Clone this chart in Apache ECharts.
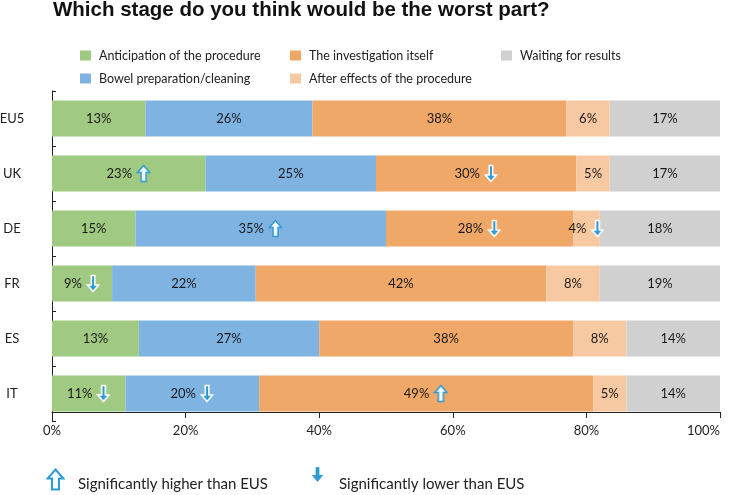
<!DOCTYPE html>
<html>
<head>
<meta charset="utf-8">
<script src="https://cdn.jsdelivr.net/npm/echarts@6/dist/echarts.min.js"></script>
<style>
html, body { margin: 0; padding: 0; background: #ffffff; }
#chart { width: 731px; height: 495px; }
</style>
</head>
<body>
<div id="chart"></div>
<script>
// categories, top to bottom
const categories = ['EU5', 'UK', 'DE', 'FR', 'ES', 'IT']
const seriesNames = [
    'Anticipation of the procedure',
    'Bowel preparation/cleaning',
    'The investigation itself',
    'After effects of the procedure',
    'Waiting for results'
]

// printed percentages
const anticipation = [13, 23, 15, 9, 13, 11]
const bowel = [26, 25, 35, 22, 27, 20]
const investigation = [38, 30, 28, 42, 38, 49]
const afterEffects = [6, 5, 4, 8, 8, 5]
const waiting = [17, 17, 18, 19, 14, 14]

// segment widths as drawn in the picture (they differ a bit from the printed numbers)
const anticipationBar = [14, 23, 12.5, 9, 13, 11]
const bowelBar = [25, 25.5, 37.5, 21.5, 27, 20]
const investigationBar = [38, 30, 28, 43.5, 38, 50]
const afterEffectsBar = [6.5, 5, 4, 8, 8, 5]
const waitingBar = [16.5, 16.5, 18, 18, 14, 14]

// significance markers vs EU5
const anticipationSig = ['', 'up', '', 'down', '', 'down']
const bowelSig = ['', '', 'up', '', '', 'down']
const investigationSig = ['', 'down', 'down', '', '', 'up']
const afterEffectsSig = ['', '', 'down', '', '', '']
const waitingSig = ['', '', '', '', '', '']

const xTicks = [0, 20, 40, 60, 80, 100]

const colors = ['#a0c981', '#7fb3e2', '#f0a868', '#f7c9a2', '#d0d0d0']
const arrowBlue = '#2f9bd6'
const font = 'Lato'

const printed = [anticipation, bowel, investigation, afterEffects, waiting]
const widths = [anticipationBar, bowelBar, investigationBar, afterEffectsBar, waitingBar]
const sigs = [anticipationSig, bowelSig, investigationSig, afterEffectsSig, waitingSig]

// small arrow pictures, drawn once on canvases
function makeArrow(dir, w, h, stemW, headH, fill, stroke, lw) {
    const pad = 1.5
    const cv = document.createElement('canvas')
    cv.width = Math.ceil(w + pad * 2)
    cv.height = Math.ceil(h + pad * 2)
    const ctx = cv.getContext('2d')
    if (dir === 'down') {
        ctx.translate(0, cv.height)
        ctx.scale(1, -1)
    }
    const cx = cv.width / 2
    const top = pad, bottom = pad + h
    ctx.beginPath()
    ctx.moveTo(cx, top)
    ctx.lineTo(cx + w / 2, top + headH)
    ctx.lineTo(cx + stemW / 2, top + headH)
    ctx.lineTo(cx + stemW / 2, bottom)
    ctx.lineTo(cx - stemW / 2, bottom)
    ctx.lineTo(cx - stemW / 2, top + headH)
    ctx.lineTo(cx - w / 2, top + headH)
    ctx.closePath()
    ctx.fillStyle = fill
    ctx.fill()
    ctx.lineJoin = 'miter'
    ctx.lineWidth = lw
    ctx.strokeStyle = stroke
    ctx.stroke()
    return cv
}

const upSmall = makeArrow('up', 12, 16, 5, 7, '#f4faff', arrowBlue, 1.5)
const downSmall = makeArrow('down', 11, 16, 3.5, 6.5, arrowBlue, '#ffffff', 1.5)
const upBig = makeArrow('up', 16, 20, 7, 9, '#f4faff', arrowBlue, 2)
const downBig = makeArrow('down', 10, 14, 3, 6, arrowBlue, arrowBlue, 0.8)

function labelFormatter(p) {
    const txt = '{v|' + printed[p.seriesIndex][p.dataIndex] + '%}'
    const sig = sigs[p.seriesIndex][p.dataIndex]
    if (sig === 'up') return txt + '{gap|}{up|}'
    if (sig === 'down') return txt + '{gap|}{dn|}'
    return txt
}

function buildSeries() {
    return seriesNames.map((name, i) => ({
        name: name,
        type: 'bar',
        stack: 'total',
        barWidth: 36,
        itemStyle: { color: colors[i] },
        label: {
            show: true,
            position: 'inside',
            formatter: labelFormatter,
            rich: {
                v: { fontFamily: font, fontSize: 13, color: '#1a1a1a' },
                gap: { width: 4 },
                up: { width: upSmall.width, height: upSmall.height, backgroundColor: { image: upSmall } },
                dn: { width: downSmall.width, height: downSmall.height, backgroundColor: { image: downSmall } }
            }
        },
        data: widths[i]
    }))
}

// one legend per item so the column-first layout of the picture can be kept
const legendSpots = [
    { left: 80, top: 49 },
    { left: 80, top: 72 },
    { left: 290, top: 49 },
    { left: 290, top: 72 },
    { left: 501, top: 49 }
]

function buildLegends() {
    return seriesNames.map((name, i) => ({
        data: [name],
        left: legendSpots[i].left,
        top: legendSpots[i].top,
        padding: 0,
        itemWidth: 11,
        itemHeight: 10,
        selectedMode: false,
        icon: 'rect',
        textStyle: { fontFamily: font, fontSize: 12.5, color: '#222', padding: [0, 0, 0, 3] }
    }))
}

const option = {
    animation: false,
    title: {
        text: 'Which stage do you think would be the worst part?',
        left: 53,
        top: 0,
        padding: 0,
        textStyle: { fontFamily: 'Liberation Sans', fontWeight: 'bold', fontSize: 20.5, color: '#111' }
    },
    legend: buildLegends(),
    grid: { left: 52, right: 11, top: 91, bottom: 74, outerBoundsMode: 'none' },
    xAxis: {
        type: 'value',
        min: xTicks[0],
        max: xTicks[xTicks.length - 1],
        interval: xTicks[1] - xTicks[0],
        offset: -9,
        axisLine: { show: true, lineStyle: { color: '#222', width: 1 } },
        axisTick: { show: true, length: 6, lineStyle: { color: '#222' } },
        splitLine: { show: false },
        axisLabel: {
            formatter: '{value}%', fontFamily: font, fontSize: 13, color: '#222', margin: 12,
            alignMaxLabel: 'right'
        }
    },
    yAxis: {
        type: 'category',
        data: categories,
        inverse: true,
        axisLine: { show: true, lineStyle: { color: '#222', width: 1 } },
        axisTick: { show: true, inside: true, length: 4, lineStyle: { color: '#222' } },
        axisLabel: { fontFamily: font, fontSize: 13, color: '#222', align: 'center', margin: 40 }
    },
    graphic: [
        { type: 'image', left: 46, top: 468, style: { image: upBig } },
        {
            type: 'text', left: 78, top: 477,
            style: { text: 'Significantly higher than EUS', fontFamily: font, fontSize: 15, fill: '#222' }
        },
        { type: 'image', left: 311, top: 466, style: { image: downBig } },
        {
            type: 'text', left: 339, top: 477,
            style: { text: 'Significantly lower than EUS', fontFamily: font, fontSize: 15, fill: '#222' }
        }
    ],
    series: buildSeries()
}

const chart = echarts.init(document.getElementById('chart'))
chart.setOption(option)
</script>
</body>
</html>
